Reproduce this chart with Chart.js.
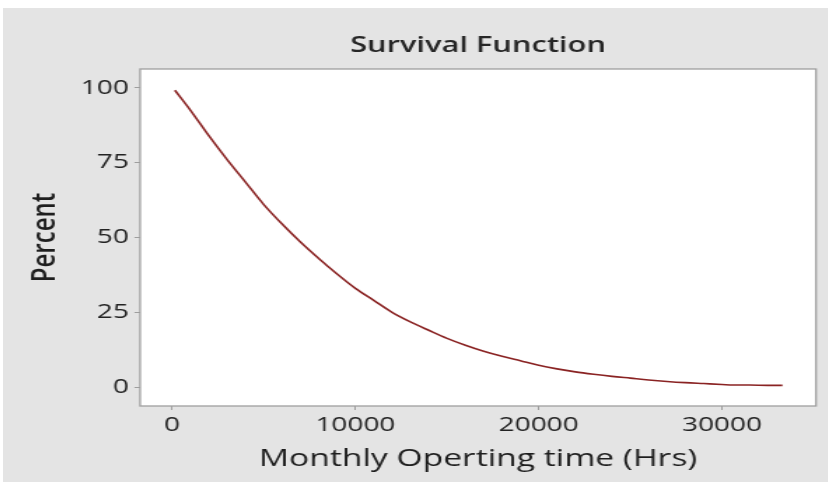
<!DOCTYPE html>
<html><head><meta charset="utf-8">
<script src="https://cdn.jsdelivr.net/npm/chart.js@4"></script>
<style>
html,body{margin:0;padding:0;background:#fff;width:828px;height:482px;overflow:hidden;}
#panel{position:absolute;left:3px;top:8px;width:825px;height:474px;background:#e4e4e4;overflow:hidden;}
#wrap{position:absolute;left:0;top:0;width:589px;height:474px;transform:scaleX(1.4);transform-origin:0 0;}
canvas{display:block;}
</style></head><body>
<div id="panel"><div id="wrap"><canvas id="c" width="589" height="474" style="width:589px;height:474px"></canvas></div></div>
<script>
// Data
const hours = [150, 1000, 2000, 3000, 4000, 5000, 6000, 7000, 8000, 9000, 10000, 11000, 12000, 13000, 14000, 15000, 16000, 17000, 18000, 19000, 20000, 21000, 22000, 23000, 24000, 25000, 26000, 27000, 28000, 29000, 30000, 30600, 31500, 32500, 33300];
const percent = [99.2, 92.5, 84, 76, 68.5, 61, 54.5, 48.5, 43, 37.8, 33, 29, 25, 21.8, 19, 16.3, 14, 12, 10.3, 8.8, 7.3, 6.1, 5.1, 4.3, 3.6, 3.0, 2.4, 1.9, 1.5, 1.2, 0.9, 0.7, 0.7, 0.6, 0.6];
const xTicks = [0, 10000, 20000, 30000];
const yTicks = [0, 25, 50, 75, 100];
const chartTitle = 'Survival Function';
const xTitle = 'Monthly Operting time (Hrs)';
const yTitle = 'Percent';

const FONT = "'Open Sans', 'Noto Sans', sans-serif";
Chart.defaults.font.family = FONT;

const plotFrame = {
  id: 'plotFrame',
  beforeDraw(chart) {
    const {ctx, chartArea: a} = chart;
    ctx.save();
    ctx.fillStyle = '#ffffff';
    ctx.fillRect(a.left, a.top, a.right - a.left, a.bottom - a.top);
    ctx.restore();
  },
  afterDraw(chart) {
    const {ctx, chartArea: a} = chart;
    ctx.save();
    ctx.strokeStyle = '#9e9e9e';
    ctx.lineWidth = 1.3;
    ctx.strokeRect(a.left, a.top, a.right - a.left, a.bottom - a.top);
    ctx.restore();
  }
};

new Chart(document.getElementById('c'), {
  type: 'line',
  data: {
    datasets: [{
      data: hours.map((h, i) => ({x: h, y: percent[i]})),
      borderColor: '#8a2323',
      borderWidth: 1.6,
      pointRadius: 0,
      fill: false,
      cubicInterpolationMode: 'monotone'
    }]
  },
  options: {
    responsive: false,
    animation: false,
    layout: {padding: {left: 0, right: 8.3, top: 0, bottom: 0}},
    plugins: {
      legend: {display: false},
      tooltip: {enabled: false},
      title: {
        display: true,
        text: chartTitle,
        fullSize: false,
        color: '#262626',
        font: {family: FONT, size: 22, weight: '600'},
        padding: {top: 25, bottom: 9.6}
      }
    },
    scales: {
      x: {
        type: 'linear',
        min: -1750,
        max: 35130,
        afterBuildTicks: s => { s.ticks = xTicks.map(v => ({value: v})); },
        afterFit: s => { s.height = 76; },
        ticks: {
          color: '#222222',
          font: {family: FONT, size: 20, weight: '500'},
          padding: 3,
          maxRotation: 0,
          autoSkip: false,
          callback: v => String(v)
        },
        grid: {drawOnChartArea: false, drawTicks: true, tickLength: 4, color: '#9e9e9e'},
        border: {display: false},
        title: {
          display: true,
          text: xTitle,
          color: '#1e1e1e',
          font: {family: FONT, size: 24, weight: '500'},
          padding: {top: 0, bottom: 8}
        }
      },
      y: {
        type: 'linear',
        min: -6.3,
        max: 106.3,
        afterBuildTicks: s => { s.ticks = yTicks.map(v => ({value: v})); },
        afterFit: s => { s.width = 97.9; },
        ticks: {
          color: '#222222',
          font: {family: FONT, size: 20, weight: '500'},
          padding: 4,
          autoSkip: false,
          callback: v => String(v)
        },
        grid: {drawOnChartArea: false, drawTicks: true, tickLength: 4, color: '#9e9e9e'},
        border: {display: false},
        title: {
          display: true,
          text: yTitle,
          color: '#1e1e1e',
          font: {family: FONT, size: 24, weight: '600'},
          padding: {top: 16, bottom: 0}
        }
      }
    }
  },
  plugins: [plotFrame]
});
</script>
</body></html>
